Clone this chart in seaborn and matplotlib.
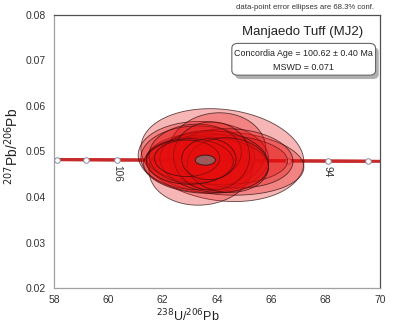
import numpy as np
import pandas as pd
import matplotlib
matplotlib.use("Agg")
import matplotlib.pyplot as plt
from matplotlib.patches import FancyBboxPatch
import seaborn as sns

# Concordia reference points (age in Ma, 238U/206Pb, 207Pb/206Pb)
concordia_age = [110, 108, 106, 104, 102, 100, 98, 96, 94, 92]
concordia_u238_pb206 = [58.11, 59.19, 60.32, 61.48, 62.68, 63.95, 65.25, 66.60, 68.08, 69.57]
concordia_pb207_pb206 = [0.04822, 0.04818, 0.04814, 0.04810, 0.04806, 0.04802, 0.04798, 0.04794, 0.04789, 0.04785]
labelled_ages = [106, 94]

# Single-grain analyses: ellipse centre, semi-axes and error correlation
spot_x = [64.2, 64.3, 63.3, 64.0, 63.6, 63.0, 64.6, 63.8, 63.4, 64.0, 63.2, 64.4, 63.7, 62.9, 63.9, 63.5]
spot_y = [0.0492, 0.0474, 0.0486, 0.0500, 0.0470, 0.0478, 0.0485, 0.0490, 0.0462, 0.0482, 0.0495, 0.0470, 0.0483, 0.0485, 0.0478, 0.0488]
spot_ex = [3.0, 2.9, 2.1, 1.8, 2.3, 1.6, 2.2, 1.4, 1.9, 2.6, 1.7, 1.5, 1.0, 1.2, 2.0, 2.4]
spot_ey = [0.0102, 0.0070, 0.0070, 0.0085, 0.0062, 0.0050, 0.0065, 0.0075, 0.0080, 0.0055, 0.0065, 0.0060, 0.0045, 0.0040, 0.0068, 0.0078]
spot_rho = [-0.15, -0.12, 0.0, 0.05, -0.05, 0.0, -0.1, 0.0, 0.05, -0.05, 0.05, -0.05, 0.0, 0.0, -0.1, -0.05]

# Weighted concordia age ellipse
mean_x, mean_y, mean_ex, mean_ey = 63.57, 0.0481, 0.37, 0.0011

sns.set_theme(style="white")
plt.rcParams["font.family"] = ["Liberation Sans", "DejaVu Sans"]

fig = plt.figure(figsize=(3.97, 3.24), dpi=100)
ax = fig.add_axes([0.136, 0.111, 0.821, 0.843])

conc = pd.DataFrame({"x": concordia_u238_pb206, "y": concordia_pb207_pb206, "age": concordia_age})
ax.plot([57.0, 71.0], [0.04826, 0.04780], color="#c62a2a", linewidth=2.2, zorder=2)
sns.lineplot(data=conc, x="x", y="y", ax=ax, color="#c62a2a", linewidth=2.2,
             sort=False, zorder=2, legend=False)
sns.scatterplot(data=conc, x="x", y="y", ax=ax, s=16, color="white",
                edgecolor="#8a8aa0", linewidth=0.7, zorder=3, legend=False)

for age in labelled_ages:
    i = concordia_age.index(age)
    ax.text(concordia_u238_pb206[i], concordia_pb207_pb206[i] - 0.0011, str(age),
            rotation=-90, ha="center", va="top", fontsize=7.2, color="#333333")

t = np.linspace(0, 2 * np.pi, 200)
order = np.argsort(np.array(spot_ex) * np.array(spot_ey))[::-1]
for k in order:
    r = spot_rho[k]
    xs = spot_x[k] + spot_ex[k] * np.cos(t)
    ys = spot_y[k] + spot_ey[k] * (r * np.cos(t) + np.sqrt(1 - r * r) * np.sin(t))
    ax.fill(xs, ys, facecolor=(0.90, 0.05, 0.05, 0.30), edgecolor=(0.18, 0.05, 0.05, 0.75),
            linewidth=0.6, zorder=4)

ax.fill(mean_x + mean_ex * np.cos(t), mean_y + mean_ey * np.sin(t),
        facecolor="#9c5a5a", edgecolor="#3a1a1a", linewidth=0.7, zorder=5)

ax.set_xlim(58, 70)
ax.set_ylim(0.02, 0.08)
ax.set_xticks(np.arange(58, 70.1, 2))
ax.set_xticks(np.arange(58, 70.1, 1), minor=True)
ax.set_yticks(np.arange(0.02, 0.0801, 0.01))
ax.set_yticks(np.arange(0.02, 0.0801, 0.005), minor=True)
ax.set_xticklabels([f"{v:d}" for v in range(58, 71, 2)])
ax.set_yticklabels([f"{v:.2f}" for v in np.arange(0.02, 0.0801, 0.01)])
ax.tick_params(which="both", direction="in", colors="#999999", labelcolor="#333333",
               labelsize=7.5, length=3, width=0.6)
ax.tick_params(axis="x", pad=5)
ax.tick_params(axis="y", pad=6)
for side in ["left", "bottom"]:
    ax.spines[side].set_color("#a0a0a0")
for side in ["top", "right"]:
    ax.spines[side].set_color("#505050")
for s in ax.spines.values():
    s.set_linewidth(0.9)

ax.set_xlabel(r"$^{238}$U/$^{206}$Pb", fontsize=9, color="#222222", labelpad=0)
ax.xaxis.set_label_coords(0.41, -0.072)
ax.set_ylabel(r"$^{207}$Pb/$^{206}$Pb", fontsize=10, color="#222222", labelpad=4)
ax.yaxis.set_label_coords(-0.10, 0.52)

fig.text(0.768, 0.976, "data-point error ellipses are 68.3% conf.", ha="center", va="center",
         fontsize=5.6, color="#333333")
fig.text(0.763, 0.902, "Manjaedo Tuff (MJ2)", ha="center", va="center", fontsize=9.5, color="#222222")

shadow = FancyBboxPatch((0.592, 0.756), 0.362, 0.098, boxstyle="round,pad=0,rounding_size=0.015",
                        transform=fig.transFigure, facecolor="#b0b0b0", edgecolor="none", zorder=6)
box = FancyBboxPatch((0.584, 0.768), 0.362, 0.098, boxstyle="round,pad=0,rounding_size=0.015",
                     transform=fig.transFigure, facecolor="white", edgecolor="#666666",
                     linewidth=0.8, zorder=7)
fig.patches.extend([shadow, box])
fig.text(0.765, 0.836, "Concordia Age = 100.62 \u00b1 0.40 Ma", ha="center", va="center",
         fontsize=6.4, color="#222222", zorder=8)
fig.text(0.765, 0.793, "MSWD = 0.071", ha="center", va="center", fontsize=6.4,
         color="#222222", zorder=8)

fig.savefig("out.png", dpi=100)
